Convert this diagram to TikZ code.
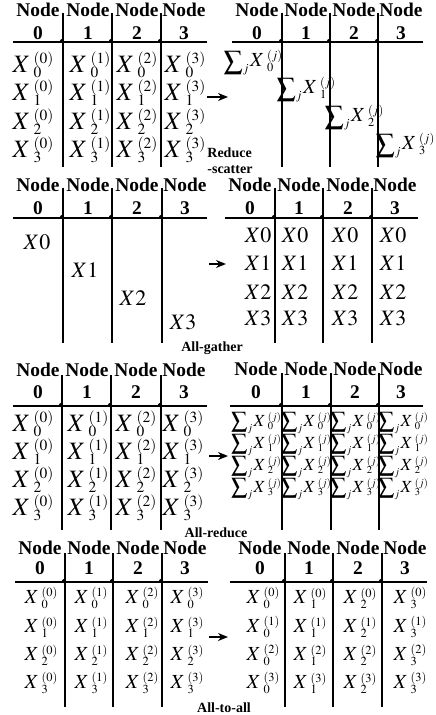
\documentclass[tikz,border=0pt]{standalone}
\usepackage{mathptmx}
\usepackage[no-math]{fontspec}
\setmainfont{Liberation Serif}
\usetikzlibrary{arrows.meta}
% one block X with its node index above and its part index below
\newcommand{\xent}[2]{$X$\kern0.14em\rlap{\raisebox{-0.22em}{\scalebox{0.62}{$#2$}}}\raisebox{0.34em}{\scalebox{0.62}{$(#1)$}}}
% a reduced block: sum over the nodes
\newcommand{\sent}[1]{\raisebox{-0.12em}{\scalebox{1.35}{$\sum$}}\raisebox{-0.3em}{\scalebox{0.62}{$j$}}\kern0.08em\xent{j}{#1}}

\begin{document}
\begin{tikzpicture}[x=0.5pt,y=-0.5pt,
  gridline/.style={line width=1.2pt},
  hdr/.style={font=\fontsize{9.7}{10}\selectfont\bfseries, inner sep=0pt},
  opname/.style={font=\fontsize{7}{8}\selectfont\bfseries, inner sep=0pt, align=left},
  cellbig/.style={font=\fontsize{12.5}{13}\selectfont, inner sep=0pt},
  cellmid/.style={font=\fontsize{11}{11}\selectfont, inner sep=0pt},
  cellsmall/.style={font=\fontsize{10}{10}\selectfont, inner sep=0pt},
  cellsum/.style={font=\fontsize{8.5}{9}\selectfont, inner sep=0pt},
  flow/.style={-{Stealth[length=5pt,width=4pt]}, line width=1pt}]
\useasboundingbox (0,0) rectangle (435,715);

% ---------------- Reduce-scatter ----------------
% Left table: grid and header
\draw[gridline] (13,42) -- (207,42);
\foreach \xv in {63,112,161} {
  \draw[gridline] (\xv,13) -- (\xv,167);
  \fill (\xv-1,41) circle (1pt);
}
\foreach \i/\xc in {0/38,1/88,2/137,3/184} {
  \node[hdr] (rsl-n\i) at (\xc,10) {Node};
  \node[hdr] (rsl-d\i) at (\xc,33) {\i};
}
% Left table: entries
\foreach \c/\xc in {0/33,1/90,2/137,3/185}
  \foreach \r/\yr in {0/65,1/93,2/122,3/150}
    \node[cellbig] (rsl-x\r\c) at (\xc,\yr) {\xent{\c}{\r}};
% Right table: grid and header
\draw[gridline] (232,42) -- (423,42);
\foreach \xv in {282,330,378} {
  \draw[gridline] (\xv,13) -- (\xv,167);
  \fill (\xv-1,41) circle (1pt);
}
\foreach \i/\xc in {0/257,1/306,2/354,3/401} {
  \node[hdr] (rsr-n\i) at (\xc,10) {Node};
  \node[hdr] (rsr-d\i) at (\xc,33) {\i};
}
% Right table: one reduced block per node
\foreach \r/\xc/\yr in {0/253/63,1/306/90,2/354/118,3/405/146}
  \node[cellsmall] (rsr-s\r) at (\xc,\yr) {\sent{\r}};
\coordinate (rs-from) at (207,97);
\coordinate (rs-to) at (228,97);
\draw[flow] (rs-from) -- (rs-to);
\node[opname, anchor=west] (rs-name) at (207,161) {Reduce\\-scatter};

% ---------------- All-gather ----------------
% Left table: grid and header
\draw[gridline] (13,218) -- (207,218);
\foreach \xv in {63,112,162} {
  \draw[gridline] (\xv,188) -- (\xv,343);
  \fill (\xv-1,217) circle (1pt);
}
\foreach \i/\xc in {0/38,1/88,2/137,3/185} {
  \node[hdr] (agl-n\i) at (\xc,185) {Node};
  \node[hdr] (agl-d\i) at (\xc,208) {\i};
}
\foreach \r/\xc/\yr in {0/37/242,1/85/270,2/133/298,3/183/322}
  \node[cellmid] (agl-x\r) at (\xc,\yr) {$X\r$};
% Right table: grid and header
\draw[gridline] (225,218) -- (418,218);
\foreach \xv in {275,323,372} {
  \draw[gridline] (\xv,188) -- (\xv,343);
  \fill (\xv-1,217) circle (1pt);
}
\foreach \i/\xc in {0/250,1/299,2/348,3/395} {
  \node[hdr] (agr-n\i) at (\xc,185) {Node};
  \node[hdr] (agr-d\i) at (\xc,208) {\i};
}
\foreach \c/\xc in {0/258,1/295,2/345,3/393}
  \foreach \r/\yr in {0/235,1/263,2/292,3/318}
    \node[cellmid] (agr-x\r\c) at (\xc,\yr) {$X\r$};
\coordinate (ag-from) at (209,264);
\coordinate (ag-to) at (226,264);
\draw[flow] (ag-from) -- (ag-to);
\node[opname] (ag-name) at (212,348) {All-gather};

% ---------------- All-reduce ----------------
% Left table: grid and header
\draw[gridline] (13,406) -- (207,406);
\foreach \xv in {62,111,161} {
  \draw[gridline] (\xv,375) -- (\xv,530);
  \fill (\xv-1,405) circle (1pt);
}
\foreach \i/\xc in {0/38,1/87,2/136,3/184} {
  \node[hdr] (arl-n\i) at (\xc,370) {Node};
  \node[hdr] (arl-d\i) at (\xc,392) {\i};
}
\foreach \c/\xc in {0/33,1/88,2/136,3/183}
  \foreach \r/\yr in {0/424,1/452,2/480,3/508}
    \node[cellbig] (arl-x\r\c) at (\xc,\yr) {\xent{\c}{\r}};
% Right table: grid and header
\draw[gridline] (230,406) -- (423,406);
\foreach \xv in {282,331,379} {
  \draw[gridline] (\xv,373) -- (\xv,530);
  \fill (\xv-1,405) circle (1pt);
}
\foreach \i/\xc in {0/256,1/306,2/355,3/401} {
  \node[hdr] (arr-n\i) at (\xc,369) {Node};
  \node[hdr] (arr-d\i) at (\xc,392) {\i};
}
\foreach \c/\xc in {0/256,1/306,2/355,3/403}
  \foreach \r/\yr in {0/423,1/445,2/467,3/489}
    \node[cellsum] (arr-s\r\c) at (\xc,\yr) {\sent{\r}};
\coordinate (ar-from) at (209,456);
\coordinate (ar-to) at (228,456);
\draw[flow] (ar-from) -- (ar-to);
\node[opname] (ar-name) at (216,533) {All-reduce};

% ---------------- All-to-all ----------------
% Left table: grid and header
\draw[gridline] (15,582) -- (208,582);
\foreach \xv in {65,113,162} {
  \draw[gridline] (\xv,553) -- (\xv,707);
  \fill (\xv-1,581) circle (1pt);
}
\foreach \i/\xc in {0/40,1/89,2/138,3/185} {
  \node[hdr] (aal-n\i) at (\xc,548) {Node};
  \node[hdr] (aal-d\i) at (\xc,568) {\i};
}
\foreach \c/\xc in {0/41,1/91,2/142,3/187}
  \foreach \r/\yr in {0/598,1/627,2/655,3/683}
    \node[cellsmall] (aal-x\r\c) at (\xc,\yr) {\xent{\c}{\r}};
% Right table: grid and header
\draw[gridline] (230,582) -- (427,582);
\foreach \xv in {285,333,382} {
  \draw[gridline] (\xv,553) -- (\xv,707);
  \fill (\xv-1,581) circle (1pt);
}
\foreach \i/\xc in {0/260,1/309,2/358,3/405} {
  \node[hdr] (aar-n\i) at (\xc,548) {Node};
  \node[hdr] (aar-d\i) at (\xc,568) {\i};
}
\foreach \c/\xc in {0/263,1/310,2/360,3/410}
  \foreach \r/\yr in {0/598,1/627,2/655,3/683}
    \node[cellsmall] (aar-x\r\c) at (\xc,\yr) {\xent{\r}{\c}};
\coordinate (aa-from) at (209,637);
\coordinate (aa-to) at (228,637);
\draw[flow] (aa-from) -- (aa-to);
\node[opname] (aa-name) at (224,708) {All-to-all};
\end{tikzpicture}
\end{document}
